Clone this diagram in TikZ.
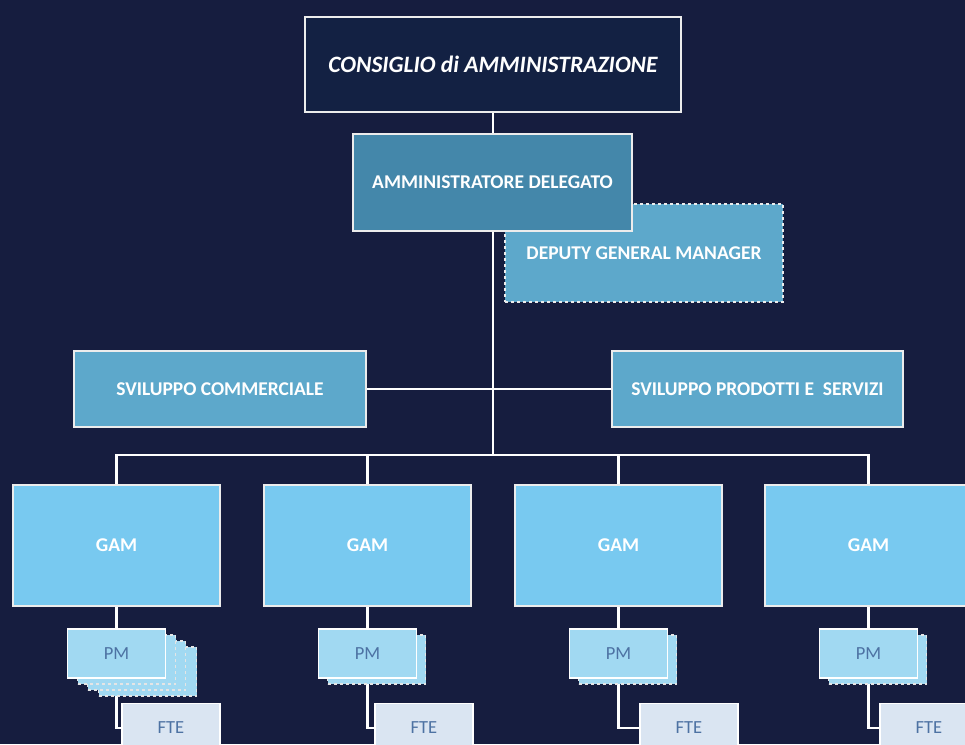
\documentclass[tikz,border=0pt]{standalone}
\usepackage{fontspec}
\setmainfont{Carlito}
\usepackage{tikz}

\pgfdeclarelayer{bg}
\pgfdeclarelayer{lines}
\pgfsetlayers{bg,lines,main}

\definecolor{navy}{HTML}{161D3F}
\definecolor{boardblue}{HTML}{132143}
\definecolor{ceoblue}{HTML}{4487AA}
\definecolor{midblue}{HTML}{5DA8CB}
\definecolor{gamblue}{HTML}{78C9F0}
\definecolor{pmblue}{HTML}{A1D9F2}
\definecolor{ftegrey}{HTML}{DAE5F2}
\definecolor{smalltext}{HTML}{4D72A3}

\begin{document}
\begin{tikzpicture}[x=1pt, y=-1pt,
    box/.style={draw=white!85!gray, line width=1.1pt, rectangle, inner sep=0pt, align=center,
        text=white, font=\bfseries\fontsize{19.5}{22}\selectfont},
    smallbox/.style={box, draw=white, text=smalltext, font=\fontsize{18.5}{21}\selectfont,
        minimum width=98, minimum height=49},
    copybox/.style={draw=white!80!gray, line width=1.1pt, dashed, fill=pmblue, rectangle,
        minimum width=98, minimum height=49},
    link/.style={draw=white, line width=2.3pt}]
    \begin{pgfonlayer}{bg}
        \fill[navy] (0,0) rectangle (965,744);
    \end{pgfonlayer}
    \useasboundingbox (0,0) rectangle (965,744);

    % Nodes for top management
    \node [box, fill=boardblue, minimum width=376, minimum height=95,
        font=\bfseries\itshape\fontsize{23.5}{26}\selectfont] (board) at (493,64.5) {CONSIGLIO di AMMINISTRAZIONE};
    \node [box, fill=midblue, dashed, minimum width=278, minimum height=98] (deputy) at (644,253) {DEPUTY GENERAL MANAGER};
    \node [box, fill=ceoblue, minimum width=279, minimum height=97] (ceo) at (492.5,182.5) {AMMINISTRATORE DELEGATO};

    % Nodes for business development
    \node [box, fill=midblue, minimum width=292, minimum height=76] (sales) at (220,389) {SVILUPPO COMMERCIALE};
    \node [box, fill=midblue, minimum width=291, minimum height=76] (products) at (757.5,389) {SVILUPPO PRODOTTI E\ \ SERVIZI};

    % Nodes for the four GAM branches
    \foreach \i/\x/\fx in {1/116.5/171, 2/367.5/424, 3/618.5/689, 4/868.5/929} {
        \node [box, fill=gamblue, minimum width=207, minimum height=121] (gam\i) at (\x,545.5) {GAM};
        \node [smallbox, fill=ftegrey] (fte\i) at (\fx,728) {FTE};
    }

    % Stacked copies behind each PM
    \foreach \dx/\dy in {31/18, 20/12, 10/6}
        \node [copybox] (pmcopy\dx) at (116.5+\dx,653.5+\dy) {};
    \foreach \i/\x in {2/367.5, 3/618.5, 4/868.5}
        \node [copybox] (pmcopy\i) at (\x+9,653.5+6) {};
    \foreach \i/\x in {1/116.5, 2/367.5, 3/618.5, 4/868.5}
        \node [smallbox, fill=pmblue] (pm\i) at (\x,653.5) {PM};

    % Connectors
    \coordinate (bus) at (493,455);
    \begin{pgfonlayer}{lines}
        \draw [link] (board) -- (bus);
        \draw [link] (sales) -- (products);
        \foreach \i in {1,2,3,4} {
            \draw [link] (bus) -| (gam\i);
            \draw [link] (gam\i) -- (pm\i);
            \draw [link] (pm\i) |- (fte\i);
        }
    \end{pgfonlayer}
\end{tikzpicture}
\end{document}
